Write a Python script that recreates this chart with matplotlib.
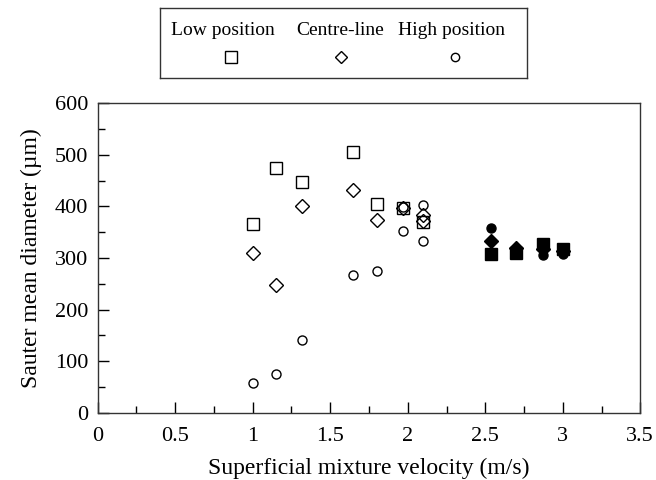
import numpy as np
import matplotlib
matplotlib.use('Agg')
import matplotlib.pyplot as plt
from matplotlib.ticker import MultipleLocator

plt.rcParams['font.family'] = ['Liberation Serif', 'DejaVu Serif']

# Open markers (lower velocities)
low_x = [1.0, 1.15, 1.32, 1.65, 1.8, 1.97, 2.1]
low_y = [365, 475, 448, 506, 405, 396, 370]
centre_x = [1.0, 1.15, 1.32, 1.65, 1.8, 1.97, 2.1, 2.1]
centre_y = [309, 248, 400, 431, 373, 397, 372, 383]
high_x = [1.0, 1.15, 1.32, 1.65, 1.8, 1.97, 1.97, 2.1, 2.1]
high_y = [58, 75, 141, 268, 275, 352, 398, 402, 333]

# Filled markers (higher velocities)
low_fx = [2.54, 2.7, 2.87, 3.0]
low_fy = [308, 309, 328, 318]
centre_fx = [2.54, 2.7, 2.87, 3.0]
centre_fy = [333, 320, 318, 313]
high_fx = [2.54, 2.7, 2.87, 3.0]
high_fy = [358, 312, 305, 308]

labels = ['Low position', 'Centre-line', 'High position']

fig = plt.figure(figsize=(6.56, 4.8), dpi=100)
ax = fig.add_axes([0.149, 0.14, 0.827, 0.645])

ax.plot(low_x, low_y, 's', ms=9, mfc='white', mec='black', mew=1.0, ls='none')
ax.plot(centre_x, centre_y, 'D', ms=7, mfc='none', mec='black', mew=1.0, ls='none')
ax.plot(high_x, high_y, 'o', ms=6.5, mfc='none', mec='black', mew=1.0, ls='none')
ax.plot(low_fx, low_fy, 's', ms=9, color='black', ls='none')
ax.plot(centre_fx, centre_fy, 'D', ms=7, color='black', ls='none')
ax.plot(high_fx, high_fy, 'o', ms=6.5, color='black', ls='none')

ax.set_xlim(0, 3.5)
ax.set_ylim(0, 600)
ax.xaxis.set_major_locator(MultipleLocator(0.5))
ax.xaxis.set_minor_locator(MultipleLocator(0.25))
ax.yaxis.set_major_locator(MultipleLocator(100))
ax.yaxis.set_minor_locator(MultipleLocator(50))
ax.set_xticks(np.arange(0, 3.51, 0.5))
ax.set_xticklabels(['0', '0.5', '1', '1.5', '2', '2.5', '3', '3.5'])
ax.tick_params(which='major', direction='in', length=8, width=1, labelsize=16, pad=7)
ax.tick_params(axis='x', which='major', pad=10)
ax.tick_params(which='minor', direction='in', length=5, width=1)
for s in ax.spines.values():
    s.set_color('#333333')
    s.set_linewidth(1)
ax.set_xlabel('Superficial mixture velocity (m/s)', fontsize=17, labelpad=9)
ax.set_ylabel('Sauter mean diameter (µm)', fontsize=17, labelpad=9)

# Legend box: labels above markers
lg = fig.add_axes([0.244, 0.838, 0.559, 0.146])
lg.set_xlim(0, 1)
lg.set_ylim(0, 1)
lg.set_xticks([])
lg.set_yticks([])
for s in lg.spines.values():
    s.set_color('#333333')
    s.set_linewidth(1)
txt_x = [0.172, 0.49, 0.795]
mk_x = [0.193, 0.493, 0.804]
styles = [('s', 9), ('D', 6.5), ('o', 6)]
for lab, tx, mx, (m, ms) in zip(labels, txt_x, mk_x, styles):
    lg.text(tx, 0.68, lab, ha='center', va='center', fontsize=14)
    lg.plot([mx], [0.3], m, ms=ms, mfc='white', mec='black', mew=1.0)

fig.savefig('out.png', dpi=100)
